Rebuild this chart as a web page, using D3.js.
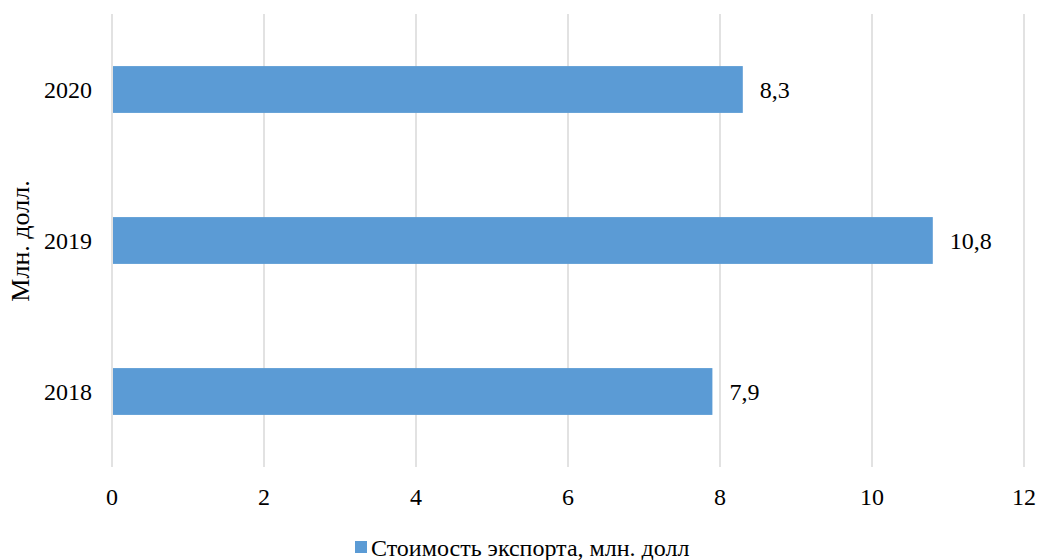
<!DOCTYPE html>
<html><head><meta charset="utf-8">
<script src="https://cdn.jsdelivr.net/npm/d3@7"></script>
<style>
body{margin:0;background:#fff;}
</style></head>
<body>
<svg id="c" width="1038" height="560" font-family="'Liberation Serif', 'Times New Roman', Tinos, 'DejaVu Serif', serif"></svg>
<script>
const years = ["2018","2019","2020"];
const values = [7.9, 10.8, 8.3];
const xTicks = [0,2,4,6,8,10,12];
const seriesName = "Стоимость экспорта, млн. долл";
const axisTitle = "Млн. долл.";

const svg = d3.select("#c");
const x = d3.scaleLinear().domain([0,12]).range([112,1024]);
const y = d3.scaleBand().domain(years.slice().reverse()).range([14,467]).paddingInner(0.69).paddingOuter(0.345);

svg.append("g").selectAll("line").data(xTicks).join("line")
  .attr("x1",d=>x(d)).attr("x2",d=>x(d)).attr("y1",14).attr("y2",467)
  .attr("stroke","#d9d9d9").attr("stroke-width",1.5);

svg.append("g").selectAll("rect").data(years).join("rect")
  .attr("x",x(0)+1).attr("y",d=>y(d))
  .attr("width",(d,i)=>x(values[i])-x(0)-1).attr("height",y.bandwidth())
  .attr("fill","#5b9bd5");

svg.append("g").selectAll("text").data(years).join("text")
  .attr("x",(d,i)=>x(values[i])+17).attr("y",d=>y(d)+y.bandwidth()/2)
  .attr("dy","0.35em").attr("font-size",24)
  .text((d,i)=>String(values[i]).replace(".",","));

svg.append("g").selectAll("text").data(years).join("text")
  .attr("x",92).attr("y",d=>y(d)+y.bandwidth()/2)
  .attr("dy","0.35em").attr("text-anchor","end").attr("font-size",24)
  .text(d=>d);

svg.append("g").selectAll("text").data(xTicks).join("text")
  .attr("x",d=>x(d)).attr("y",497).attr("dy","0.35em")
  .attr("text-anchor","middle").attr("font-size",24)
  .text(d=>d);

svg.append("text").attr("transform","translate(20,241) rotate(-90)")
  .attr("dy","0.35em").attr("text-anchor","middle").attr("font-size",26)
  .text(axisTitle);

const lg = svg.append("g");
lg.append("rect").attr("x",355).attr("y",541).attr("width",12).attr("height",12).attr("fill","#5b9bd5");
lg.append("text").attr("x",371).attr("y",548).attr("dy","0.35em").attr("font-size",24).text(seriesName);
</script>
</body></html>
